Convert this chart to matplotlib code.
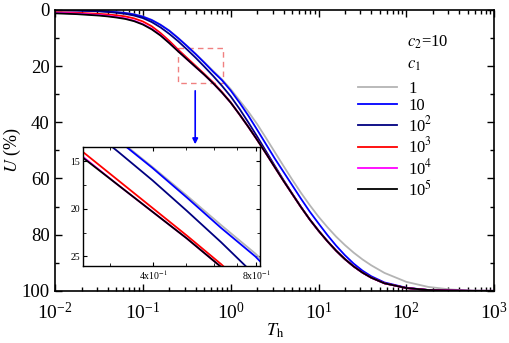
import numpy as np
import matplotlib
matplotlib.use("Agg")
import matplotlib.pyplot as plt
from matplotlib.patches import Rectangle
from matplotlib.ticker import FixedLocator, NullFormatter, MultipleLocator

plt.rcParams['font.family'] = 'Liberation Serif'
plt.rcParams['mathtext.fontset'] = 'stix'

# log10(T_h) grid at which the curves were read
log_th = [-2.0, -1.75, -1.5, -1.4, -1.3, -1.2, -1.1, -1.0, -0.9, -0.8, -0.7, -0.6, -0.5, -0.4,
          -0.3, -0.2, -0.1, 0.0, 0.1, 0.2, 0.3, 0.4, 0.5, 0.6, 0.7, 0.8, 0.9,
          1.0, 1.1, 1.2, 1.3, 1.4, 1.5, 1.6, 1.75, 2.0, 2.25, 2.5, 2.75, 3.0]

# U (%) for c2 = 10 and different c1
u_c1_1 = [0.0, 0.1, 0.3, 0.5, 0.7, 1.0, 1.5, 2.3, 3.5, 5.2, 7.3, 9.9, 12.7, 15.6,
          18.6, 21.7, 24.7, 28.2, 32.2, 36.2, 40.6, 45.5, 50.5, 55.5, 60.4, 65.1, 69.5,
          73.6, 77.3, 80.7, 83.7, 86.4, 88.8, 90.9, 93.6, 96.8, 98.6, 99.5, 99.9, 100.0]
u_c1_10 = [0.1, 0.2, 0.4, 0.6, 0.8, 1.1, 1.6, 2.4, 3.6, 5.3, 7.4, 10.0, 12.8, 15.7,
           18.8, 22.0, 25.0, 28.7, 33.0, 37.6, 42.6, 47.7, 52.8, 57.6, 62.4, 67.2, 71.8,
           76.0, 80.1, 83.9, 87.3, 90.3, 92.8, 94.8, 97.0, 98.9, 99.7, 99.9, 100.0, 100.0]
u_c1_1e2 = [0.1, 0.2, 0.5, 0.7, 1.0, 1.4, 2.0, 2.9, 4.3, 6.2, 8.5, 11.1, 14.0, 17.0,
            20.2, 23.5, 27.0, 30.8, 35.2, 40.0, 45.0, 50.2, 55.4, 60.5, 65.4, 70.1, 74.6,
            78.6, 82.3, 85.7, 88.7, 91.3, 93.5, 95.3, 97.3, 99.0, 99.7, 99.9, 100.0, 100.0]
u_c1_1e3 = [0.8, 1.0, 1.4, 1.6, 1.9, 2.3, 3.0, 4.1, 5.8, 8.2, 11.0, 14.1, 17.0, 19.9,
            22.8, 25.8, 29.2, 32.9, 37.2, 41.6, 46.2, 51.0, 55.9, 60.8, 65.5, 70.2, 74.6,
            78.6, 82.3, 85.7, 88.7, 91.3, 93.5, 95.3, 97.3, 99.0, 99.7, 99.9, 100.0, 100.0]
u_c1_1e4 = [1.0, 1.3, 1.8, 2.1, 2.5, 3.0, 3.8, 5.0, 6.7, 8.9, 11.7, 14.6, 17.5, 20.3,
            23.1, 26.1, 29.4, 33.0, 37.2, 41.6, 46.2, 51.0, 55.9, 60.8, 65.5, 70.2, 74.6,
            78.6, 82.3, 85.7, 88.7, 91.3, 93.5, 95.3, 97.3, 99.0, 99.7, 99.9, 100.0, 100.0]
u_c1_1e5 = [1.2, 1.5, 2.0, 2.3, 2.7, 3.2, 4.0, 5.2, 6.9, 9.1, 11.8, 14.7, 17.5, 20.3,
            23.1, 26.1, 29.4, 33.0, 37.2, 41.6, 46.2, 51.0, 55.9, 60.8, 65.5, 70.2, 74.6,
            78.6, 82.3, 85.7, 88.7, 91.3, 93.5, 95.3, 97.3, 99.0, 99.7, 99.9, 100.0, 100.0]

labels = ['1', '10', '10$^2$', '10$^3$', '10$^4$', '10$^5$']
colors = ['#b4b4b4', '#0000ff', '#000080', '#ff0000', '#ff00ff', '#000000']
series = [u_c1_1, u_c1_10, u_c1_1e2, u_c1_1e3, u_c1_1e4, u_c1_1e5]

# zoomed window
zoom_x = (0.25, 0.82)
zoom_y = (26.0, 13.5)

th = 10 ** np.array(log_th)

fig = plt.figure(figsize=(5.1, 3.43), dpi=100)
ax = fig.add_axes([0.108, 0.152, 0.861, 0.819])

lines = []
for u, c, lab in zip(series, colors, labels):
    ln, = ax.plot(th, u, color=c, lw=1.3, label=lab)
    lines.append(ln)

ax.set_xscale('log')
ax.set_xlim(1e-2, 1e3)
ax.set_ylim(100, 0)
ax.yaxis.set_major_locator(MultipleLocator(20))
ax.yaxis.set_minor_locator(MultipleLocator(10))
ax.tick_params(which='both', direction='in', top=True, right=True, labelsize=14, width=1.0)
ax.tick_params(which='major', length=5)
ax.tick_params(which='minor', length=3)
ax.tick_params(axis='x', which='both', pad=8)
ax.tick_params(axis='y', which='both', pad=4, labelsize=13.5)
for sp in ax.spines.values():
    sp.set_linewidth(1.2)
ax.set_xlabel(r'$T_{\mathrm{h}}$', fontsize=13, labelpad=-1)
ax.set_ylabel(r'$U$ (%)', fontsize=13, labelpad=-1)

ax.text(0.802, 0.886, r'$c_2$=10', transform=ax.transAxes, fontsize=12, va='center')
ax.text(0.802, 0.804, r'$c_1$', transform=ax.transAxes, fontsize=12, va='center')
ax.legend(handles=lines, loc='upper left', bbox_to_anchor=(0.672, 0.778), frameon=False,
          fontsize=12, handlelength=2.3, handletextpad=0.7, labelspacing=0.08, borderpad=0)

# dashed box marking the zoomed region, and arrow to inset
ax.add_patch(Rectangle((zoom_x[0], zoom_y[1]), zoom_x[1] - zoom_x[0], zoom_y[0] - zoom_y[1],
                       fill=False, ls=(0, (4, 3)), ec='#f08080', lw=1.0))
ax.annotate('', xy=(0.394, 48.8), xytext=(0.394, 27.8),
            arrowprops=dict(arrowstyle='-|>', color='#0000ff', lw=1.2, mutation_scale=8))

# inset
axin = fig.add_axes([0.163, 0.2245, 0.347, 0.347])
for u, c in zip(series, colors):
    axin.plot(th, u, color=c, lw=1.3)
axin.set_xscale('log')
axin.set_xlim(*zoom_x)
axin.set_ylim(*zoom_y)
axin.xaxis.set_major_locator(FixedLocator([0.4, 0.8]))
axin.xaxis.set_minor_locator(FixedLocator([0.3, 0.5, 0.6, 0.7]))
axin.xaxis.set_minor_formatter(NullFormatter())
axin.set_xticklabels([r'4x10$^{-1}$', r'8x10$^{-1}$'])
axin.yaxis.set_major_locator(MultipleLocator(5))
axin.yaxis.set_minor_locator(MultipleLocator(2.5))
axin.tick_params(which='both', direction='in', top=True, right=True, labelsize=7, pad=2)
axin.tick_params(which='major', length=3)
axin.tick_params(which='minor', length=2)
for sp in axin.spines.values():
    sp.set_linewidth(1.0)

fig.savefig('out.png', dpi=100)
